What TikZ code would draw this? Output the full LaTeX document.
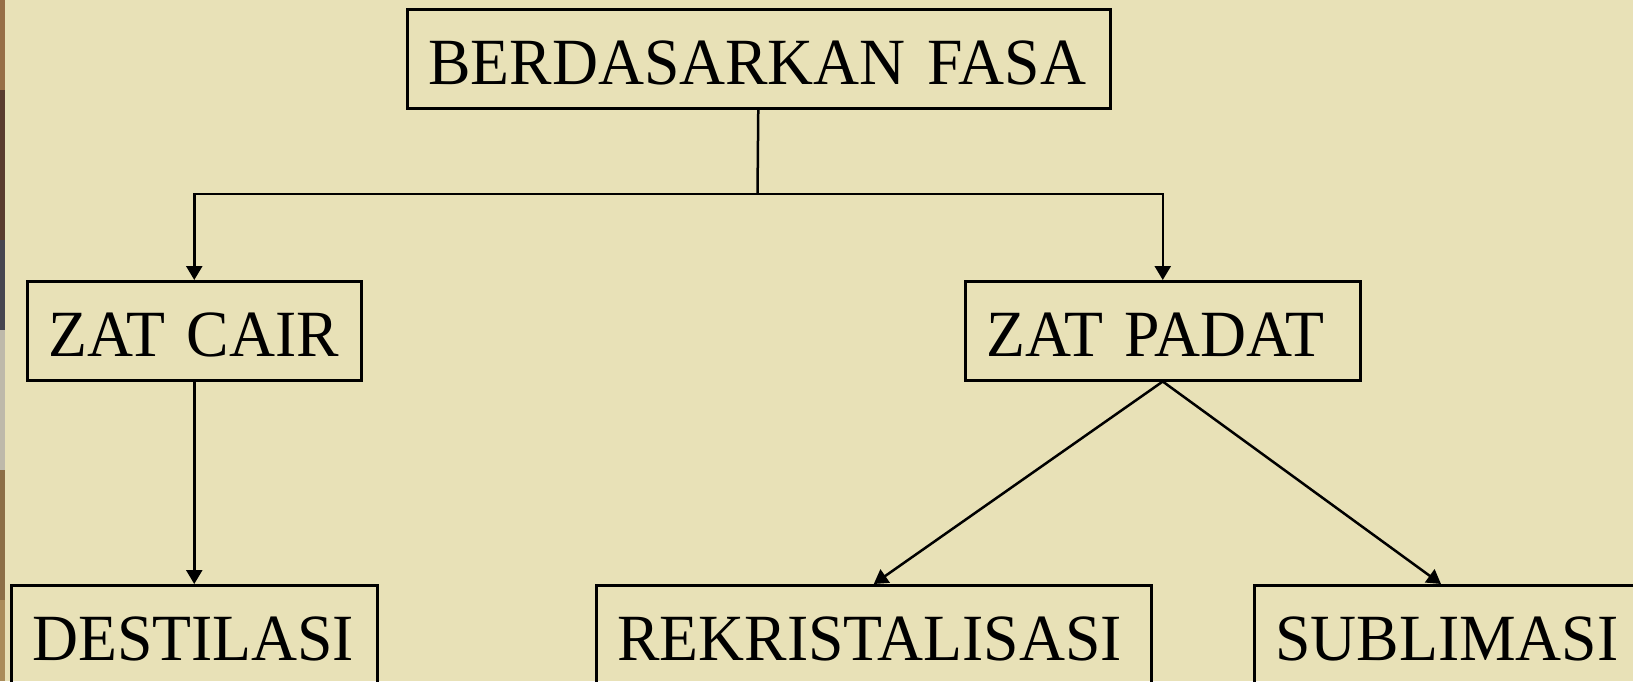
\documentclass[tikz,border=0pt]{standalone}
\usepackage{fontspec}
\setmainfont{Liberation Serif}[FakeStretch = 0.965, WordSpace = 0.75]
\usetikzlibrary{arrows.meta}

\definecolor{paper}{RGB}{232,225,183}
\definecolor{barkA}{RGB}{150,110,70}
\definecolor{barkB}{RGB}{90,60,45}
\definecolor{barkC}{RGB}{70,70,80}
\definecolor{barkD}{RGB}{190,185,170}
\definecolor{barkE}{RGB}{140,110,70}
\definecolor{barkF}{RGB}{170,140,90}

\begin{document}
\begin{tikzpicture}[
    x = 0.5pt, y = -0.5pt,
    line width = 1.25pt,
    >= {Triangle[length = 7pt, width = 8pt]},
    %
    stage/.style = {draw,
      anchor = north west,
      font = \fontsize{33pt}{40pt}\selectfont,
      align = left,
      inner xsep = 10.5pt, inner ysep = 1pt,
      text height = 28.7pt, text depth = 3.3pt,
      minimum height = 49.5pt},
    ]

    \useasboundingbox (0, 0) rectangle (1633, 681);
    \clip (0, 0) rectangle (1633, 681);

    % background and photo edge
    \fill [paper] (0, 0) rectangle (1633, 681);
    \fill [barkA] (0, 0) rectangle (5, 90);
    \fill [barkB] (0, 90) rectangle (5, 240);
    \fill [barkC] (0, 240) rectangle (5, 330);
    \fill [barkD] (0, 330) rectangle (5, 470);
    \fill [barkE] (0, 470) rectangle (5, 600);
    \fill [barkF] (0, 600) rectangle (5, 681);

    \node at (406, 8)
    [stage, text width = 330.5pt, name = fasa] {BERDASARKAN~FASA};

    \node at (26, 280)
    [stage, text width = 146pt, name = cair] {ZAT~CAIR};
    \node at (964, 280)
    [stage, text width = 176.5pt, name = padat] {ZAT~PADAT};

    \node at (10, 584)
    [stage, text width = 162pt, name = destilasi] {DESTILASI};
    \node at (595, 584)
    [stage, text width = 256.5pt, name = rekristalisasi] {REKRISTALISASI};
    \node at (1253, 584)
    [stage, text width = 189pt, name = sublimasi] {SUBLIMASI};

    \coordinate (split) at (757.5, 194);

    \draw (fasa) to (split);
    \draw [->] (split) -| (cair);
    \draw [->] (split) -| (padat);

    \draw [->] (cair) to (destilasi);

    \draw [->] (padat.south) to (rekristalisasi.north);
    \draw [->] (padat.south) to ([xshift = 94pt] sublimasi.north west);

  \end{tikzpicture}
\end{document}
